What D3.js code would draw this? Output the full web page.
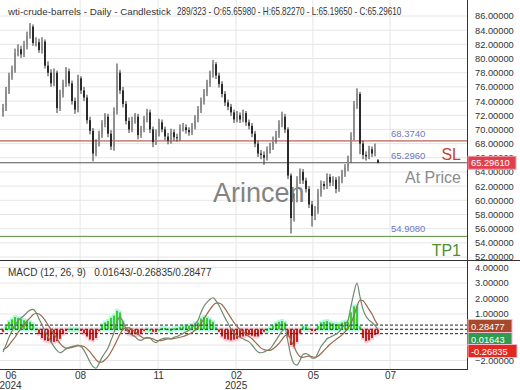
<!DOCTYPE html>
<html>
<head>
<meta charset="utf-8">
<script src="https://cdn.jsdelivr.net/npm/d3@7"></script>
<style>
  body { margin: 0; background: #fff; }
  svg { font-family: "Liberation Sans", Arial, sans-serif; display: block; }
  .pre { white-space: pre; }
</style>
</head>
<body>
<svg id="chart" width="520" height="390"></svg>
<script>
// daily candles (one entry every ~3px)
var opens = [
  72.4, 73.0, 75.5, 77.5, 78.4, 80.8, 81.3, 80.6, 81.8, 83.2,
  84.5, 82.2, 82.3, 81.2, 82.4, 79.0, 78.0, 76.5, 78.0, 73.0,
  75.0, 76.5, 78.2, 76.5, 74.0, 72.8, 77.2, 75.5, 74.5, 71.3,
  69.8, 66.6, 68.0, 69.3, 70.8, 71.8, 69.4, 67.6, 72.6, 78.0,
  75.5, 73.6, 71.2, 70.0, 71.2, 71.8, 69.2, 70.0, 71.4, 72.4,
  70.0, 68.2, 69.5, 71.0, 70.0, 69.0, 68.4, 69.6, 68.9, 68.8,
  70.2, 70.3, 69.9, 69.6, 70.4, 71.5, 72.8, 74.0, 75.2, 76.5,
  77.8, 79.2, 77.6, 76.4, 75.0, 73.8, 73.2, 72.4, 71.4, 72.0,
  71.4, 72.3, 71.0, 70.5, 69.4, 68.0, 66.6, 66.4, 66.0, 67.1,
  67.6, 68.5, 69.3, 70.8, 71.8, 70.0, 63.5, 57.5, 60.2, 62.8,
  64.0, 62.8, 61.6, 59.4, 57.8, 58.6, 61.0, 62.3, 62.0, 63.3,
  62.5, 62.9, 61.6, 62.9, 63.8, 64.6, 65.8, 69.0, 73.4, 75.0,
  68.0, 66.4, 66.2, 67.2, 66.6, 65.66
];
var highs = [
  73.6, 76.0, 78.0, 79.0, 81.4, 82.0, 81.8, 82.5, 83.8, 85.0,
  84.8, 83.0, 82.8, 83.0, 82.7, 79.6, 78.5, 78.6, 78.3, 75.6,
  77.0, 78.8, 78.6, 76.9, 74.5, 77.7, 77.5, 76.0, 74.9, 71.8,
  70.2, 68.6, 69.8, 71.3, 72.3, 72.2, 69.9, 73.1, 79.3, 78.4,
  76.0, 74.0, 71.7, 71.8, 72.3, 72.2, 70.5, 71.9, 72.9, 72.8,
  70.4, 70.0, 71.5, 71.4, 70.4, 69.5, 70.1, 70.0, 69.4, 70.7,
  70.9, 70.7, 70.3, 70.9, 72.0, 73.3, 74.5, 75.7, 77.0, 78.3,
  79.8, 79.5, 78.0, 76.8, 75.4, 74.2, 73.6, 72.8, 72.6, 72.4,
  72.8, 72.6, 71.4, 70.9, 69.8, 68.4, 67.1, 66.9, 67.6, 68.1,
  69.0, 69.8, 71.3, 72.5, 72.2, 70.3, 63.8, 61.0, 63.4, 64.5,
  64.4, 63.2, 62.0, 59.9, 59.2, 61.6, 62.8, 62.7, 63.8, 63.7,
  63.4, 63.3, 63.4, 64.3, 65.1, 66.3, 69.6, 74.0, 75.8, 75.3,
  68.4, 66.9, 67.7, 67.6, 68.0, 65.82
];
var lows = [
  71.8, 72.6, 75.0, 77.0, 78.0, 80.3, 80.1, 80.2, 81.3, 82.8,
  81.8, 81.7, 80.8, 80.7, 78.6, 77.5, 76.0, 76.1, 72.3, 72.6,
  74.5, 76.0, 76.1, 73.5, 72.2, 72.4, 75.0, 74.0, 70.8, 69.3,
  65.5, 66.2, 67.6, 68.8, 70.3, 68.9, 67.1, 67.0, 72.1, 75.0,
  73.1, 70.7, 69.5, 69.6, 70.8, 68.6, 68.8, 69.6, 71.0, 69.5,
  67.5, 67.8, 69.0, 69.6, 68.5, 67.9, 68.0, 68.4, 68.3, 68.4,
  69.7, 69.4, 69.1, 69.2, 70.0, 71.0, 72.3, 73.5, 74.7, 76.0,
  77.3, 77.1, 75.9, 74.5, 73.3, 72.7, 71.9, 70.9, 71.0, 70.9,
  71.0, 70.5, 70.0, 68.9, 67.5, 66.1, 65.8, 65.0, 65.6, 66.6,
  67.1, 68.0, 68.8, 70.3, 69.5, 63.0, 55.3, 57.0, 59.7, 62.3,
  62.3, 61.1, 58.9, 56.3, 57.2, 58.1, 60.5, 61.5, 61.6, 62.0,
  62.0, 61.0, 61.2, 62.4, 63.3, 64.1, 65.3, 68.5, 72.9, 66.5,
  65.8, 65.6, 65.8, 66.1, 66.2, 65.20
];
var closes = [
  73.0, 75.5, 77.5, 78.4, 80.8, 81.3, 80.6, 81.8, 83.2, 84.5,
  82.2, 82.3, 81.2, 82.4, 79.0, 78.0, 76.5, 78.0, 73.0, 75.0,
  76.5, 78.2, 76.5, 74.0, 72.8, 77.2, 75.5, 74.5, 71.3, 69.8,
  66.6, 68.0, 69.3, 70.8, 71.8, 69.4, 67.6, 72.6, 78.0, 75.5,
  73.6, 71.2, 70.0, 71.2, 71.8, 69.2, 70.0, 71.4, 72.4, 70.0,
  68.2, 69.5, 71.0, 70.0, 69.0, 68.4, 69.6, 68.9, 68.8, 70.2,
  70.3, 69.9, 69.6, 70.4, 71.5, 72.8, 74.0, 75.2, 76.5, 77.8,
  79.2, 77.6, 76.4, 75.0, 73.8, 73.2, 72.4, 71.4, 72.0, 71.4,
  72.3, 71.0, 70.5, 69.4, 68.0, 66.6, 66.4, 66.0, 67.1, 67.6,
  68.5, 69.3, 70.8, 71.8, 70.0, 63.5, 57.5, 60.2, 62.8, 64.0,
  62.8, 61.6, 59.4, 57.8, 58.6, 61.0, 62.3, 62.0, 63.3, 62.5,
  62.9, 61.6, 62.9, 63.8, 64.6, 65.8, 69.0, 73.4, 75.0, 68.0,
  66.4, 66.2, 67.2, 66.6, 67.2, 65.296
];

// MACD (12, 26, 9) lines
var macdLine = [
  -1.45, -1.0, -0.5, -0.1, 0.3, 0.55, 0.75, 0.9, 1.1, 1.25,
  1.3, 1.1, 0.7, 0.3, -0.1, -0.45, -0.8, -1.1, -1.35, -1.5,
  -1.4, -1.25, -1.15, -1.1, -1.05, -1.0, -1.1, -1.35, -1.7, -2.1,
  -2.4, -2.5, -2.2, -1.8, -1.5, -1.2, -0.7, -0.2, 0.5, 0.8,
  0.5, 0.05, -0.2, -0.35, -0.45, -0.65, -0.7, -0.6, -0.5, -0.55,
  -0.75, -0.85, -0.7, -0.6, -0.55, -0.55, -0.6, -0.5, -0.45, -0.35,
  -0.25, -0.15, -0.05, 0.1, 0.35, 0.6, 1.1, 1.5, 1.75, 1.95,
  2.05, 1.85, 1.55, 1.15, 0.75, 0.4, 0.05, -0.2, -0.4, -0.5,
  -0.6, -0.7, -0.8, -1.0, -1.25, -1.45, -1.5, -1.45, -1.35, -1.25,
  -1.0, -0.7, -0.4, -0.1, 0.05, -0.8, -1.7, -2.2, -2.3, -2.0,
  -1.6, -1.55, -1.65, -1.85, -1.85, -1.5, -1.1, -0.85, -0.6, -0.5,
  -0.4, -0.3, -0.15, 0.1, 0.35, 0.6, 1.5, 2.4, 3.0, 2.1,
  1.3, 0.85, 0.6, 0.45, 0.25, 0.01643
];
var signalLine = [
  -1.3, -1.2, -1.0, -0.75, -0.5, -0.2, 0.05, 0.3, 0.55, 0.75,
  0.95, 1.05, 1.0, 0.85, 0.6, 0.3, 0.0, -0.3, -0.6, -0.9,
  -1.1, -1.2, -1.2, -1.15, -1.1, -1.05, -1.05, -1.1, -1.25, -1.45,
  -1.7, -1.95, -2.1, -2.1, -1.95, -1.75, -1.45, -1.1, -0.7, -0.3,
  0.0, 0.1, 0.1, 0.0, -0.15, -0.3, -0.45, -0.55, -0.55, -0.55,
  -0.6, -0.7, -0.72, -0.7, -0.65, -0.6, -0.6, -0.58, -0.55, -0.5,
  -0.45, -0.38, -0.3, -0.2, -0.05, 0.15, 0.4, 0.7, 1.0, 1.3,
  1.55, 1.7, 1.7, 1.6, 1.35, 1.05, 0.75, 0.45, 0.2, 0.0,
  -0.15, -0.3, -0.45, -0.6, -0.8, -1.0, -1.2, -1.3, -1.35, -1.35,
  -1.25, -1.1, -0.9, -0.65, -0.4, -0.35, -0.7, -1.1, -1.5, -1.75,
  -1.8, -1.75, -1.72, -1.75, -1.8, -1.72, -1.55, -1.35, -1.15, -0.95,
  -0.8, -0.65, -0.5, -0.35, -0.15, 0.1, 0.4, 0.9, 1.5, 1.9,
  1.85, 1.6, 1.3, 1.0, 0.6, 0.28477
];

var priceTicks = [52, 54, 56, 58, 60, 62, 64, 66, 68, 70, 72, 74, 76, 78, 80, 82, 84, 86];
var macdGrid = [4, 3, 2, 1, 0, -1, -2];
var macdTicks = [4, 3, 2, 1, -2];   // 0 and -1 sit under the value badges
var monthPos = [2.5, 25.7, 51.7, 77.7, 103.3, 129];   // candle index of each month start
var monthLabels = ["06", "08", "11", "02", "05", "07"];
var yearLabels = ["2024", "", "", "2025", "", ""];

var levels = [
  {name: "SL", value: 68.374, label: "68.3740", color: "#a8382a", textColor: "#c8402e"},
  {name: "At Price", value: 65.296, label: "65.2960", color: "#555", textColor: "#8a8a8a"},
  {name: "TP1", value: 54.908, label: "54.9080", color: "#5a8f3c", textColor: "#4f8f2f"}
];
var lastPrice = 65.2961;
var macdValues = [0.01643, -0.26835, 0.28477];   // macd / histogram / signal
var macdBadges = [
  {value: 0.28477, text: "0.28477", color: "#a9482b", y: 326},
  {value: 0.01643, text: "0.01643", color: "#2e9b50", y: 339},
  {value: -0.26835, text: "-0.26835", color: "#e2291f", y: 351}
];

var svg = d3.select("#chart");
var axisX = 467;

var x = d3.scaleLinear().domain([-1, 155]).range([0, 468]);
var y = d3.scaleLinear().domain([52, 86]).range([257, 16]);
var ym = d3.scaleLinear().domain([-2, 4]).range([360.5, 267.5]);

// grid
svg.append("g").selectAll("line").data(priceTicks).enter().append("line")
   .attr("x1", 0).attr("x2", axisX)
   .attr("y1", function(d) { return y(d); }).attr("y2", function(d) { return y(d); })
   .style("stroke", "#e6e6e6");
svg.append("g").selectAll("line").data(macdGrid).enter().append("line")
   .attr("x1", 0).attr("x2", axisX)
   .attr("y1", function(d) { return ym(d); }).attr("y2", function(d) { return ym(d); })
   .style("stroke", "#e6e6e6");
svg.append("g").selectAll("line").data(monthPos.slice(1)).enter().append("line")
   .attr("x1", function(d) { return x(d); }).attr("x2", function(d) { return x(d); })
   .attr("y1", 0).attr("y2", 369)
   .style("stroke", "#e6e6e6");

// title: the name part and the OHLC part (digits run narrow in the original)
svg.append("text")
   .attr("x", 8).attr("y", 15)
   .style("font-size", "9.8px").style("fill", "#333")
   .text("wti-crude-barrels - Daily - Candlestick");
svg.append("text")
   .attr("transform", "translate(177,15) scale(0.81,1)")
   .style("font-size", "10px").style("fill", "#333")
   .text("289/323 - O:65.65980 - H:65.82270 - L:65.19650 - C:65.29610");

// watermark
svg.append("text")
   .attr("x", 213).attr("y", 202)
   .style("font-size", "27px").style("fill", "#6e6e6e").style("opacity", 0.85)
   .text("Arincen");

// level lines
levels.forEach(function(l) {
    svg.append("line")
       .attr("x1", 0).attr("x2", axisX)
       .attr("y1", y(l.value)).attr("y2", y(l.value))
       .style("stroke", l.color).style("stroke-width", 1);
    svg.append("text")
       .attr("x", 391).attr("y", y(l.value) - 4)
       .style("font-size", "9.5px").style("fill", "#6b76c4")
       .text(l.label);
});
svg.append("text").attr("x", 461).attr("y", 160).attr("text-anchor", "end")
   .style("font-size", "16px").style("fill", levels[0].textColor).text("SL");
svg.append("text").attr("x", 461).attr("y", 183).attr("text-anchor", "end")
   .style("font-size", "16px").style("fill", levels[1].textColor).text("At Price");
svg.append("text").attr("x", 461).attr("y", 256).attr("text-anchor", "end")
   .style("font-size", "16px").style("fill", levels[2].textColor).text("TP1");

// candles
var candles = svg.append("g");
closes.forEach(function(c, i) {
    var o = opens[i], cx = x(i);
    candles.append("line")
       .attr("x1", cx).attr("x2", cx)
       .attr("y1", y(highs[i])).attr("y2", y(lows[i]))
       .style("stroke", "#333").style("stroke-width", 1);
    candles.append("rect")
       .attr("x", cx - 1).attr("width", 2)
       .attr("y", y(Math.max(o, c)))
       .attr("height", Math.max(1, Math.abs(y(o) - y(c))))
       .style("fill", c >= o ? "#8e8e8e" : "#2a2a2a");
});

// MACD panel
svg.append("text").attr("class", "pre")
   .attr("x", 8).attr("y", 276)
   .style("font-size", "10px").style("fill", "#333")
   .text("MACD (12, 26, 9)   " + macdValues[0].toFixed(5) + "/" + macdValues[1].toFixed(5) + "/" + macdValues[2].toFixed(5));

var hist = svg.append("g");
macdLine.forEach(function(m, i) {
    var h = m - signalLine[i], cx = x(i);
    var top = Math.min(ym(0), ym(h)), ht = Math.max(1.5, Math.abs(ym(h) - ym(0)));
    hist.append("rect")
       .attr("x", cx - 2).attr("width", 4)
       .attr("y", top - 2).attr("height", ht + 4)
       .style("fill", h >= 0 ? "#a8f5e0" : "#ffc4d4").style("opacity", 0.8);
});
macdLine.forEach(function(m, i) {
    var h = m - signalLine[i], cx = x(i);
    var top = Math.min(ym(0), ym(h)), ht = Math.max(1.5, Math.abs(ym(h) - ym(0)));
    hist.append("rect")
       .attr("x", cx - 1).attr("width", 2)
       .attr("y", top).attr("height", ht)
       .style("fill", h >= 0 ? "#3ccf2a" : "#c0241c");
});

svg.append("g").selectAll("line").data(macdBadges).enter().append("line")
   .attr("x1", 0).attr("x2", axisX)
   .attr("y1", function(d) { return ym(d.value); }).attr("y2", function(d) { return ym(d.value); })
   .style("stroke", "#222").style("stroke-dasharray", "3,2");

var lineM = d3.line().x(function(d, i) { return x(i); }).y(function(d) { return ym(d); }).curve(d3.curveMonotoneX);
svg.append("path").datum(signalLine).attr("d", lineM)
   .style("fill", "none").style("stroke", "#9c6a4c").style("stroke-width", 1.2);
svg.append("path").datum(macdLine).attr("d", lineM)
   .style("fill", "none").style("stroke", "#6f8a70").style("stroke-width", 1.2);

// frame
svg.append("line").attr("x1", 0).attr("x2", 520).attr("y1", 260.5).attr("y2", 260.5).style("stroke", "#333");
svg.append("line").attr("x1", 0).attr("x2", axisX).attr("y1", 369.5).attr("y2", 369.5).style("stroke", "#333");
svg.append("line").attr("x1", axisX + 0.5).attr("x2", axisX + 0.5).attr("y1", 0).attr("y2", 370).style("stroke", "#333");

// right axes
var yAxis = d3.axisRight(y).tickValues(priceTicks).tickFormat(d3.format(".5f")).tickSize(0).tickPadding(8);
var gy = svg.append("g").attr("transform", "translate(" + axisX + ",0)").call(yAxis);
gy.select(".domain").remove();
gy.selectAll("text").style("font-size", "9.3px").style("fill", "#333").style("font-family", "Liberation Sans, Arial, sans-serif");

var mAxis = d3.axisRight(ym).tickValues(macdTicks).tickFormat(d3.format(".5f")).tickSize(0).tickPadding(8);
var gm = svg.append("g").attr("transform", "translate(" + axisX + ",0)").call(mAxis);
gm.select(".domain").remove();
gm.selectAll("text").style("font-size", "9.3px").style("fill", "#333").style("font-family", "Liberation Sans, Arial, sans-serif");

// price badge
svg.append("rect").attr("x", 468).attr("y", y(lastPrice) - 6.5).attr("width", 48).attr("height", 13)
   .style("fill", "#e0404e").style("stroke", "#f4a0b0");
svg.append("text").attr("x", 471).attr("y", y(lastPrice) + 3.5)
   .style("font-size", "9.3px").style("fill", "#fff").text(lastPrice.toFixed(5));

// macd badges
macdBadges.forEach(function(b) {
    svg.append("rect").attr("x", 468).attr("y", b.y - 6.5).attr("width", b.text.length > 7 ? 49 : 44).attr("height", 13)
       .style("fill", b.color).style("stroke", "#f6b8cc");
    svg.append("text").attr("x", 471).attr("y", b.y + 3.5)
       .style("font-size", "9.3px").style("fill", "#fff").text(b.text);
});

// bottom axis
var xAxis = d3.axisBottom(x).tickValues(monthPos)
    .tickFormat(function(d, i) { return monthLabels[i]; }).tickSize(0).tickPadding(0);
var gx = svg.append("g").attr("transform", "translate(0,370)").call(xAxis);
gx.select(".domain").remove();
gx.selectAll("text").attr("dy", 0).attr("y", 9)
   .style("font-size", "10px").style("fill", "#333").style("font-family", "Liberation Sans, Arial, sans-serif");
svg.append("g").selectAll("text").data(monthPos).enter().append("text")
   .attr("x", function(d) { return x(d); }).attr("y", 389)
   .attr("text-anchor", "middle")
   .style("font-size", "10px").style("fill", "#333")
   .text(function(d, i) { return yearLabels[i]; });
</script>
</body>
</html>
